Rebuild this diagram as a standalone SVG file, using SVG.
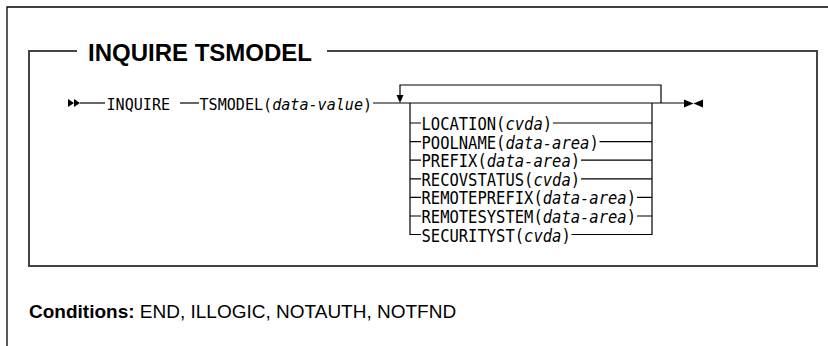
<svg xmlns="http://www.w3.org/2000/svg" width="828" height="346" viewBox="0 0 828 346">
<style>
.page{fill:none;stroke:#000;stroke-width:1.3}
.box{fill:none;stroke:#444;stroke-width:2}
.title{font-family:"Liberation Sans",Arial,sans-serif;font-weight:bold;font-size:24px;fill:#000}
.syn{font-family:"DejaVu Sans Mono",monospace;font-size:15.5px;fill:#000}
.main{font-size:15.1px}
.var{font-style:italic}
.ln{fill:none;stroke:#000;stroke-width:1.2}
.ah{fill:#000}
.cond{font-family:"Liberation Sans",Arial,sans-serif;font-size:19px;fill:#000}
</style>
<g id="page">
<path class="page" d="M7,346 V7 H828"/>
</g>
<g id="frame">
<path class="box" d="M77,51 H29 V266 H817 V51 H327"/>
<text class="title" x="88" y="61">INQUIRE TSMODEL</text>
</g>
<g id="connectors">
<path class="ln" d="M80,103 H105"/>
<path class="ln" d="M180,103 H199"/>
<path class="ln" d="M373,103 H684"/>
<path class="ln" d="M400,95 V85 H661 V103"/>
<path class="ln" d="M410,103 V234.5 H421"/>
<path class="ln" d="M652,103 V234.5 H571.5"/>
<path class="ln" d="M410,123 H421 M553,123 H652"/>
<path class="ln" d="M410,141.6 H421 M599.5,141.6 H652"/>
<path class="ln" d="M410,160.2 H421 M581,160.2 H652"/>
<path class="ln" d="M410,178.8 H421 M581,178.8 H652"/>
<path class="ln" d="M410,197.4 H421 M637,197.4 H652"/>
<path class="ln" d="M410,216 H421 M637,216 H652"/>
<polygon class="ah" points="68,99 74,103 68,107"/>
<polygon class="ah" points="74,99 80,103 74,107"/>
<polygon class="ah" points="684,99.5 693.5,103.5 684,107.5"/>
<polygon class="ah" points="703,99.5 693.5,103.5 703,107.5"/>
<polygon class="ah" points="396.5,95 403.5,95 400,103"/>
</g>
<g id="inquire" transform="translate(106.5,110) scale(1,1.1)">
<text class="syn main" x="0" y="0">INQUIRE</text>
</g>
<g id="tsmodel" transform="translate(199.5,110) scale(1,1.1)">
<text class="syn main" x="0" y="0">TSMODEL(<tspan class="var">data-value</tspan>)</text>
</g>
<g id="opt-location" transform="translate(421.5,130) scale(1,1.1)">
<text class="syn" x="0" y="0">LOCATION(<tspan class="var">cvda</tspan>)</text>
</g>
<g id="opt-poolname" transform="translate(421.5,148.6) scale(1,1.1)">
<text class="syn" x="0" y="0">POOLNAME(<tspan class="var">data-area</tspan>)</text>
</g>
<g id="opt-prefix" transform="translate(421.5,167.2) scale(1,1.1)">
<text class="syn" x="0" y="0">PREFIX(<tspan class="var">data-area</tspan>)</text>
</g>
<g id="opt-recovstatus" transform="translate(421.5,185.8) scale(1,1.1)">
<text class="syn" x="0" y="0">RECOVSTATUS(<tspan class="var">cvda</tspan>)</text>
</g>
<g id="opt-remoteprefix" transform="translate(421.5,204.4) scale(1,1.1)">
<text class="syn" x="0" y="0">REMOTEPREFIX(<tspan class="var">data-area</tspan>)</text>
</g>
<g id="opt-remotesystem" transform="translate(421.5,223) scale(1,1.1)">
<text class="syn" x="0" y="0">REMOTESYSTEM(<tspan class="var">data-area</tspan>)</text>
</g>
<g id="opt-securityst" transform="translate(421.5,241.5) scale(1,1.1)">
<text class="syn" x="0" y="0">SECURITYST(<tspan class="var">cvda</tspan>)</text>
</g>
<g id="conditions">
<text class="cond" x="29" y="318"><tspan font-weight="bold">Conditions:</tspan> END, ILLOGIC, NOTAUTH, NOTFND</text>
</g>
</svg>
